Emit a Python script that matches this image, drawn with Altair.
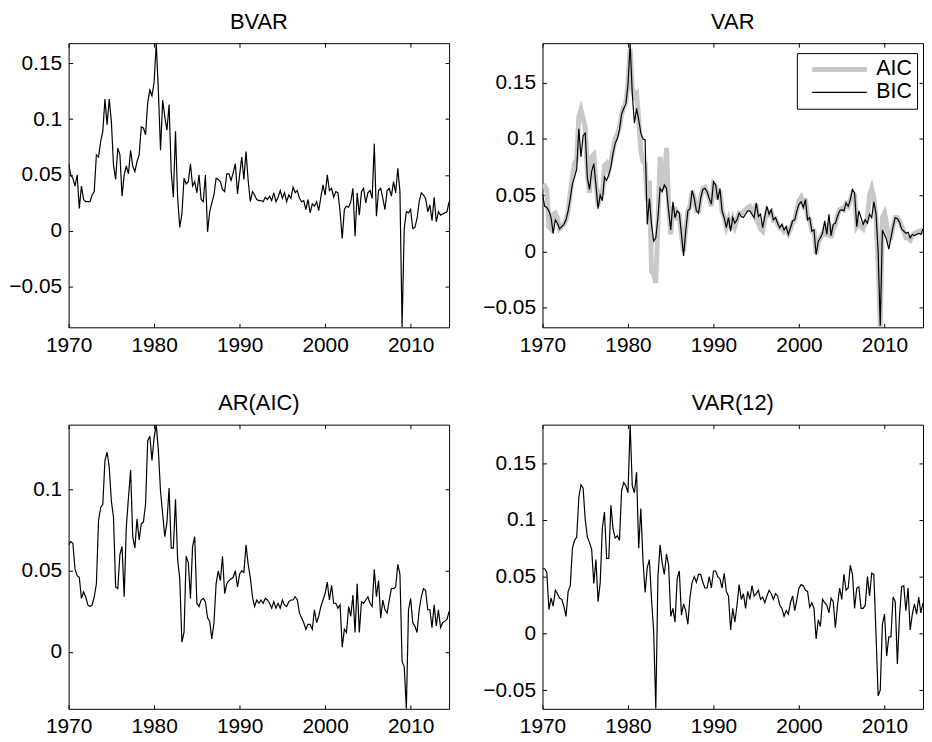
import altair as alt
import pandas as pd

FONT = "Liberation Sans"

# quarterly observations, 1970Q1 .. 2014Q3
years = [1970 + 0.25 * i for i in range(179)]

bvar = [
    0.060, 0.050, 0.047, 0.040, 0.050, 0.020, 0.040, 0.028, 0.026, 0.026,
    0.026, 0.032, 0.035, 0.068, 0.066, 0.080, 0.089, 0.118, 0.095, 0.118,
    0.098, 0.059, 0.046, 0.074, 0.068, 0.031, 0.050, 0.058, 0.051, 0.072,
    0.058, 0.053, 0.062, 0.068, 0.093, 0.092, 0.086, 0.115, 0.126, 0.121,
    0.133, 0.168, 0.125, 0.072, 0.117, 0.102, 0.090, 0.113, 0.053, 0.030,
    0.089, 0.030, 0.003, 0.015, 0.047, 0.042, 0.044, 0.060, 0.040, 0.044,
    0.034, 0.050, 0.028, 0.026, 0.050, -0.001, 0.017, 0.025, 0.032, 0.047,
    0.046, 0.044, 0.037, 0.035, 0.051, 0.051, 0.045, 0.052, 0.060, 0.033,
    0.050, 0.066, 0.046, 0.071, 0.045, 0.026, 0.035, 0.032, 0.028, 0.027,
    0.027, 0.026, 0.030, 0.028, 0.031, 0.027, 0.034, 0.026, 0.030, 0.036,
    0.029, 0.034, 0.026, 0.032, 0.029, 0.039, 0.034, 0.036, 0.029, 0.026,
    0.027, 0.019, 0.028, 0.016, 0.024, 0.022, 0.026, 0.018, 0.030, 0.041,
    0.032, 0.050, 0.036, 0.038, 0.030, 0.035, 0.034, 0.017, -0.007, 0.019,
    0.022, 0.021, 0.026, 0.038, -0.005, 0.034, 0.014, 0.035, 0.038, 0.025,
    0.034, 0.036, 0.029, 0.078, 0.013, 0.036, 0.038, 0.029, 0.019, 0.036,
    0.038, 0.031, 0.044, 0.034, 0.056, 0.035, -0.0865, 0.002, 0.017, 0.016,
    0.019, 0.002, 0.003, 0.011, 0.026, 0.034, 0.032, 0.029, 0.017, 0.023,
    0.009, 0.030, 0.008, 0.017, 0.014, 0.015, 0.016, 0.017, 0.026,
]

var_aic = [
    0.057, 0.058, 0.055, 0.022, 0.020, 0.033, 0.034, 0.030, 0.020, 0.022,
    0.024, 0.028, 0.036, 0.052, 0.066, 0.078, 0.082, 0.120, 0.126, 0.118,
    0.110, 0.070, 0.052, 0.084, 0.086, 0.060, 0.040, 0.055, 0.050, 0.076,
    0.078, 0.072, 0.080, 0.090, 0.100, 0.104, 0.110, 0.122, 0.128, 0.132,
    0.150, 0.180, 0.145, 0.138, 0.140, 0.118, 0.090, 0.080, 0.078, 0.045,
    0.063, -0.018, -0.020, -0.028, 0.025, 0.084, 0.055, 0.060, 0.092, 0.040,
    0.015, 0.040, 0.028, 0.035, 0.032, 0.015, 0.000, 0.020, 0.036, 0.040,
    0.054, 0.047, 0.036, 0.036, 0.048, 0.056, 0.057, 0.052, 0.047, 0.040,
    0.060, 0.058, 0.046, 0.054, 0.036, 0.030, 0.022, 0.028, 0.020, 0.028,
    0.022, 0.028, 0.034, 0.033, 0.035, 0.037, 0.039, 0.040, 0.036, 0.032,
    0.042, 0.025, 0.020, 0.018, 0.028, 0.036, 0.033, 0.035, 0.028, 0.029,
    0.024, 0.021, 0.022, 0.018, 0.020, 0.016, 0.020, 0.026, 0.028, 0.037,
    0.045, 0.048, 0.042, 0.047, 0.030, 0.028, 0.018, 0.018, -0.002, 0.008,
    0.012, 0.016, 0.020, 0.013, 0.025, 0.012, 0.020, 0.024, 0.032, 0.037,
    0.038, 0.037, 0.042, 0.040, 0.046, 0.052, 0.050, 0.022, 0.025, 0.022,
    0.020, 0.026, 0.030, 0.050, 0.056, 0.048, 0.030, -0.010, -0.0675, 0.030,
    0.034, 0.024, 0.010, 0.012, 0.022, 0.030, 0.030, 0.027, 0.022, 0.018,
    0.012, 0.012, 0.010, 0.014, 0.016, 0.017, 0.018, 0.017, 0.020,
]

var_bic = [
    0.051, 0.040, 0.039, 0.036, 0.030, 0.016, 0.028, 0.025, 0.020, 0.022,
    0.024, 0.028, 0.036, 0.047, 0.060, 0.066, 0.073, 0.109, 0.084, 0.103,
    0.105, 0.065, 0.055, 0.071, 0.078, 0.059, 0.038, 0.050, 0.045, 0.066,
    0.063, 0.068, 0.075, 0.087, 0.096, 0.100, 0.108, 0.122, 0.127, 0.131,
    0.148, 0.185, 0.140, 0.114, 0.127, 0.117, 0.105, 0.100, 0.099, 0.024,
    0.047, 0.024, 0.009, 0.012, 0.030, 0.056, 0.053, 0.059, 0.056, 0.036,
    0.019, 0.044, 0.030, 0.036, 0.034, 0.015, -0.004, 0.018, 0.036, 0.038,
    0.054, 0.047, 0.036, 0.034, 0.047, 0.055, 0.056, 0.053, 0.047, 0.042,
    0.062, 0.059, 0.046, 0.056, 0.036, 0.030, 0.021, 0.030, 0.018, 0.030,
    0.025, 0.028, 0.034, 0.031, 0.030, 0.033, 0.036, 0.036, 0.033, 0.030,
    0.043, 0.031, 0.033, 0.021, 0.031, 0.040, 0.033, 0.037, 0.028, 0.030,
    0.025, 0.021, 0.024, 0.019, 0.022, 0.015, 0.021, 0.027, 0.028, 0.036,
    0.042, 0.044, 0.039, 0.046, 0.028, 0.030, 0.018, 0.019, -0.003, 0.009,
    0.012, 0.016, 0.027, 0.015, 0.033, 0.014, 0.024, 0.025, 0.031, 0.036,
    0.037, 0.036, 0.043, 0.040, 0.046, 0.055, 0.052, 0.022, 0.036, 0.030,
    0.024, 0.028, 0.025, 0.033, 0.030, 0.044, 0.034, 0.000, -0.066, 0.019,
    0.015, 0.010, 0.002, 0.012, 0.022, 0.030, 0.029, 0.026, 0.020, 0.018,
    0.016, 0.017, 0.012, 0.015, 0.014, 0.015, 0.016, 0.015, 0.020,
]

ar_aic = [
    0.066, 0.068, 0.067, 0.051, 0.047, 0.046, 0.033, 0.037, 0.034, 0.029,
    0.028, 0.029, 0.034, 0.042, 0.081, 0.089, 0.091, 0.118, 0.123, 0.114,
    0.093, 0.083, 0.040, 0.039, 0.060, 0.065, 0.034, 0.077, 0.095, 0.112,
    0.071, 0.064, 0.082, 0.069, 0.079, 0.080, 0.091, 0.130, 0.133, 0.118,
    0.132, 0.140, 0.124, 0.099, 0.085, 0.071, 0.080, 0.101, 0.064, 0.064,
    0.094, 0.057, 0.045, 0.006, 0.012, 0.059, 0.055, 0.033, 0.065, 0.071,
    0.030, 0.028, 0.032, 0.033, 0.031, 0.021, 0.019, 0.008, 0.018, 0.042,
    0.050, 0.044, 0.059, 0.036, 0.042, 0.044, 0.045, 0.046, 0.050, 0.040,
    0.048, 0.050, 0.049, 0.066, 0.054, 0.046, 0.034, 0.028, 0.032, 0.030,
    0.032, 0.030, 0.033, 0.032, 0.030, 0.027, 0.031, 0.027, 0.030, 0.027,
    0.032, 0.029, 0.028, 0.031, 0.032, 0.032, 0.034, 0.032, 0.024, 0.021,
    0.018, 0.014, 0.017, 0.017, 0.014, 0.026, 0.018, 0.022, 0.028, 0.032,
    0.036, 0.043, 0.032, 0.041, 0.030, 0.030, 0.027, 0.029, 0.003, 0.014,
    0.012, 0.028, 0.022, 0.035, 0.012, 0.042, 0.012, 0.031, 0.030, 0.032,
    0.034, 0.030, 0.028, 0.051, 0.034, 0.044, 0.021, 0.032, 0.026, 0.024,
    0.032, 0.039, 0.039, 0.040, 0.054, 0.048, -0.006, -0.009, -0.035, 0.026,
    0.033, 0.018, 0.016, 0.012, 0.026, 0.034, 0.039, 0.038, 0.026, 0.026,
    0.015, 0.029, 0.016, 0.026, 0.015, 0.018, 0.019, 0.020, 0.025,
]

var12 = [
    0.057, 0.057, 0.054, 0.021, 0.031, 0.024, 0.038, 0.035, 0.031, 0.030,
    0.024, 0.015, 0.037, 0.042, 0.075, 0.082, 0.085, 0.120, 0.131, 0.128,
    0.100, 0.085, 0.080, 0.074, 0.044, 0.065, 0.028, 0.045, 0.093, 0.107,
    0.066, 0.066, 0.113, 0.092, 0.084, 0.086, 0.082, 0.126, 0.133, 0.130,
    0.124, 0.184, 0.130, 0.124, 0.142, 0.075, 0.110, 0.065, 0.036, 0.058,
    0.065, 0.030, 0.002, -0.0665, 0.050, 0.078, 0.062, 0.052, 0.070, 0.060,
    0.015, 0.022, 0.010, 0.048, 0.055, 0.016, 0.026, 0.020, 0.008, 0.032,
    0.045, 0.050, 0.045, 0.052, 0.052, 0.045, 0.040, 0.040, 0.050, 0.040,
    0.055, 0.055, 0.050, 0.048, 0.040, 0.053, 0.037, 0.033, 0.003, 0.022,
    0.010, 0.025, 0.043, 0.030, 0.035, 0.022, 0.037, 0.030, 0.042, 0.033,
    0.035, 0.038, 0.030, 0.032, 0.027, 0.033, 0.038, 0.035, 0.030, 0.035,
    0.033, 0.025, 0.022, 0.015, 0.020, 0.017, 0.027, 0.033, 0.020, 0.030,
    0.040, 0.043, 0.042, 0.038, 0.037, 0.023, 0.027, 0.022, -0.005, 0.012,
    0.006, 0.030, 0.027, 0.025, 0.018, 0.031, 0.028, 0.005, 0.025, 0.040,
    0.030, 0.052, 0.038, 0.040, 0.060, 0.052, 0.022, 0.040, 0.041, 0.022,
    0.022, 0.025, 0.050, 0.033, 0.053, 0.052, 0.000, -0.055, -0.050, 0.008,
    0.017, -0.020, -0.003, -0.003, 0.032, 0.028, -0.027, 0.015, 0.041, 0.042,
    0.020, 0.040, 0.003, 0.017, 0.026, 0.017, 0.032, 0.018, 0.027,
]

x_ticks = [1970, 1980, 1990, 2000, 2010]
titles = ["BVAR", "VAR", "AR(AIC)", "VAR(12)"]
y_domains = [[-0.0865, 0.168], [-0.0675, 0.185], [-0.035, 0.14], [-0.0665, 0.184]]
y_ticks = [
    [-0.05, 0, 0.05, 0.1, 0.15],
    [-0.05, 0, 0.05, 0.1, 0.15],
    [0, 0.05, 0.1],
    [-0.05, 0, 0.05, 0.1, 0.15],
]
series_names = ["AIC", "BIC"]
series_colors = ["#c8c8c8", "black"]
series_widths = [5, 1.2]

W, H = 383, 286
x_scale = alt.Scale(domain=[1970, 2014.5], nice=False, zero=False)
MINUS_EXPR = "datum.value < 0 ? '\u2212' + format(-datum.value, '') : format(datum.value, '')"


def ax(orient, values, labels):
    kw = dict(
        orient=orient, values=values, labels=labels, title=None,
        ticks=True, tickSize=4, tickColor="black", tickWidth=1, offset=-4,
        domain=False, grid=False, labelFont=FONT, labelFontSize=21,
        labelColor="black", labelFlush=False, labelOverlap=False,
    )
    if labels and orient == "bottom":
        kw.update(format="d", labelPadding=7)
    if labels and orient == "left":
        kw.update(labelExpr=MINUS_EXPR, labelPadding=7)
    if not labels:
        kw.update(minExtent=0, maxExtent=0)
    return alt.Axis(**kw)


def make_title(text):
    return alt.TitleParams(
        text=text, font=FONT, fontSize=22, fontWeight="normal", color="black",
        anchor="middle", frame="group", baseline="alphabetic", offset=-8,
    )


def make_panel(idx, frames):
    y_scale = alt.Scale(domain=y_domains[idx], nice=False, zero=False)
    df_all = pd.concat(frames, ignore_index=True)
    if idx == 1:
        leg = alt.Legend(
            title=None, orient="none", legendX=256, legendY=10,
            symbolType="stroke", symbolSize=3025, clipHeight=23, rowPadding=0,
            padding=5, symbolOffset=8, labelOffset=7,
            strokeColor="black", fillColor="white",
            labelFont=FONT, labelFontSize=21.5, labelColor="black",
        )
        color = alt.Color("series:N", scale=alt.Scale(domain=series_names, range=series_colors), legend=leg)
        width = alt.StrokeWidth("series:O", scale=alt.Scale(domain=series_names, range=series_widths), legend=leg)
        gray = alt.Chart(frames[0]).mark_line(clip=True).encode(
            x=alt.X("year:Q", scale=x_scale, axis=None),
            y=alt.Y("value:Q", scale=y_scale, axis=None),
            color=color, strokeWidth=width,
        )
        black = alt.Chart(frames[1]).mark_line(clip=True).encode(
            x=alt.X("year:Q", scale=x_scale, axis=ax("bottom", x_ticks, True)),
            y=alt.Y("value:Q", scale=y_scale, axis=ax("left", y_ticks[idx], True)),
            color=color, strokeWidth=width,
        )
        layers = [gray, black]
    else:
        main = alt.Chart(frames[0]).mark_line(clip=True, color="black", strokeWidth=1.2).encode(
            x=alt.X("year:Q", scale=x_scale, axis=ax("bottom", x_ticks, True)),
            y=alt.Y("value:Q", scale=y_scale, axis=ax("left", y_ticks[idx], True)),
        )
        layers = [main]
    ghost = alt.Chart(df_all).mark_line(clip=True, strokeOpacity=0).encode(
        x=alt.X("year:Q", scale=x_scale, axis=ax("top", x_ticks, False)),
        y=alt.Y("value:Q", scale=y_scale, axis=ax("right", y_ticks[idx], False)),
        detail="series:N",
    )
    layers.append(ghost)
    return alt.layer(*layers).resolve_axis(x="independent", y="independent").properties(
        width=W, height=H, title=make_title(titles[idx])
    )


def frame(values, name):
    return pd.DataFrame({"year": years, "value": values, "series": name})


p1 = make_panel(0, [frame(bvar, "BVAR")])
p2 = make_panel(1, [frame(var_aic, "AIC"), frame(var_bic, "BIC")])
p3 = make_panel(2, [frame(ar_aic, "AR")])
p4 = make_panel(3, [frame(var12, "VAR12")])

chart = (
    alt.concat(p1, p2, p3, p4, columns=2, spacing={"row": 36, "column": 32})
    .resolve_scale(color="independent", strokeWidth="independent")
    .properties(padding=0, background="white")
    .configure_view(stroke="black", strokeWidth=1)
)

chart.save("out.html", embed_options={"renderer": "svg", "actions": False})
